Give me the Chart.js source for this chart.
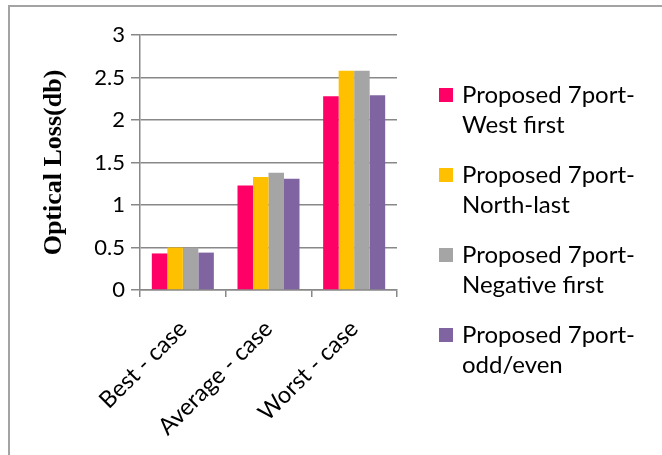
<!DOCTYPE html>
<html>
<head>
<meta charset="utf-8">
<script src="https://cdn.jsdelivr.net/npm/chart.js@4.4.1/dist/chart.umd.min.js"></script>
<style>
  html, body { margin: 0; padding: 0; background: #fff; }
  #wrap { position: relative; width: 662px; height: 455px; overflow: hidden; }
  #frame { position: absolute; left: 8px; top: 5px; width: 700px; height: 500px;
           border-left: 2px solid #a3a3a3; border-top: 2px solid #a3a3a3; }
  #legend { position: absolute; left: 439px; top: 0; font-family: Lato, sans-serif;
            font-size: 24px; color: #000; }
  .item { position: absolute; left: 0; width: 222px; line-height: 30px; }
  .item .box { position: absolute; left: 0; top: 9.5px; width: 14px; height: 14px; }
  .item .txt { position: absolute; left: 23px; top: 0; white-space: nowrap; }
</style>
</head>
<body>
<div id="wrap">
  <div id="frame"></div>
  <canvas id="chart" width="662" height="455"></canvas>
  <div id="legend"></div>
</div>
<script>
  var categories = ['Best - case', 'Average - case', 'Worst - case'];
  var seriesNames = [
    ['Proposed 7port-', 'West first'],
    ['Proposed 7port-', 'North-last'],
    ['Proposed 7port-', 'Negative first'],
    ['Proposed 7port-', 'odd/even']
  ];
  var westFirst = [0.43, 1.23, 2.28];
  var northLast = [0.50, 1.33, 2.58];
  var negativeFirst = [0.50, 1.38, 2.58];
  var oddEven = [0.44, 1.31, 2.29];
  var colors = ['#FF0066', '#FFC000', '#A5A5A5', '#8064A2'];
  var yTicks = [0, 0.5, 1, 1.5, 2, 2.5, 3];

  var values = [westFirst, northLast, negativeFirst, oddEven];
  var gridColor = '#888888';

  const ctx = document.getElementById('chart');

  const chart = new Chart(ctx, {
    type: 'bar',
    data: {
      labels: categories,
      datasets: values.map(function (v, i) {
        return {
          label: seriesNames[i].join(' '),
          data: v,
          backgroundColor: colors[i],
          borderWidth: 0
        };
      })
    },
    options: {
      responsive: false,
      animation: false,
      layout: { padding: { left: 39, top: 35, right: 265, bottom: 0 } },
      datasets: { bar: { categoryPercentage: 0.724, barPercentage: 1 } },
      plugins: {
        legend: { display: false },
        tooltip: { enabled: false }
      },
      scales: {
        x: {
          grid: {
            display: true,
            offset: true,
            drawOnChartArea: false,
            drawTicks: true,
            tickLength: 7,
            color: gridColor,
            lineWidth: 1.5
          },
          border: { color: gridColor, width: 1.5 },
          ticks: {
            autoSkip: false,
            minRotation: 45,
            maxRotation: 45,
            padding: 18,
            color: '#000',
            font: { family: 'Lato', size: 23.5 }
          },
          afterFit: function (scale) { scale.height = 165; }
        },
        y: {
          min: 0,
          max: 3,
          afterBuildTicks: function (scale) {
            scale.ticks = yTicks.map(function (t) { return { value: t }; });
          },
          grid: {
            color: gridColor,
            lineWidth: 1.5,
            drawTicks: true,
            tickLength: 9
          },
          border: { color: gridColor, width: 1.5 },
          ticks: {
            padding: 6,
            color: '#000',
            font: { family: 'Lato', size: 22 },
            callback: function (v) { return String(v); }
          },
          title: {
            display: true,
            text: 'Optical Loss(db)',
            color: '#000',
            padding: { top: 0, bottom: 0 },
            font: { family: 'Liberation Serif', size: 26, weight: 'bold', lineHeight: 1.2 }
          },
          afterFit: function (scale) { scale.width = 101; }
        }
      }
    }
  });

  // legend built as html so the two-line labels sit like the original
  var legend = document.getElementById('legend');
  seriesNames.forEach(function (name, i) {
    var item = document.createElement('div');
    item.className = 'item';
    item.style.top = (78.5 + i * 80) + 'px';
    var box = document.createElement('div');
    box.className = 'box';
    box.style.background = colors[i];
    var txt = document.createElement('div');
    txt.className = 'txt';
    txt.innerHTML = name[0] + '<br>' + name[1];
    item.appendChild(box);
    item.appendChild(txt);
    legend.appendChild(item);
  });
</script>
</body>
</html>
